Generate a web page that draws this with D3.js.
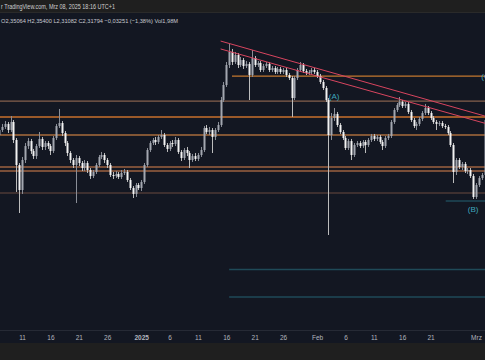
<!DOCTYPE html>
<html><head><meta charset="utf-8">
<script src="https://cdn.jsdelivr.net/npm/d3@7"></script>
<style>html,body{margin:0;padding:0;background:#1f1f1f;overflow:hidden}svg{display:block}</style>
</head><body><svg id="c" width="485" height="360"></svg>
<script>
// ---- data (12h candles, XRP-like) ----
const startTime = "2024-12-07T00:00:00Z";
const candleHours = 12;
const firstOpen = 2.639;
const closes = [
2.682,2.708,2.734,2.682,2.751,2.596,2.381,2.166,
2.424,2.544,2.587,2.501,2.458,2.544,2.605,2.536,2.570,2.544,
2.501,2.613,2.716,2.742,2.656,2.570,2.484,2.424,2.381,2.441,
2.398,2.355,2.398,2.338,2.286,2.321,2.381,2.450,2.467,2.424,
2.381,2.295,2.286,2.304,2.278,2.312,2.321,2.252,2.183,2.132,
2.209,2.183,2.235,2.381,2.510,2.570,2.596,2.579,2.622,2.639,
2.553,2.519,2.570,2.562,2.596,2.493,2.441,2.510,2.484,2.424,
2.458,2.433,2.467,2.510,2.699,2.665,2.682,2.622,2.682,2.725,
2.940,3.069,3.241,3.353,3.267,3.327,3.241,3.284,3.232,3.250,
3.155,3.301,3.241,3.258,3.198,3.232,3.250,3.198,3.215,3.181,
3.207,3.181,3.198,3.155,3.129,2.957,3.129,3.198,3.241,3.189,
3.172,3.181,3.198,3.181,3.146,3.095,3.043,2.940,2.639,2.785,
2.820,2.725,2.665,2.613,2.527,2.587,2.467,2.553,2.570,2.544,
2.579,2.553,2.596,2.630,2.605,2.622,2.579,2.544,2.613,2.630,
2.751,2.854,2.897,2.923,2.888,2.906,2.837,2.768,2.716,2.734,
2.777,2.828,2.871,2.828,2.785,2.751,2.734,2.742,2.716,2.708,
2.656,2.553,2.321,2.424,2.364,2.390,2.329,2.338,2.286,2.106,
2.209,2.269,2.295,2.768];
const highs = [
2.708,2.734,2.759,2.751,2.802,2.768,2.613,2.398,
2.450,2.570,2.613,2.605,2.519,2.562,2.665,2.622,2.587,2.587,
2.562,2.630,2.734,2.863,2.759,2.673,2.587,2.501,2.441,2.467,
2.458,2.415,2.424,2.415,2.355,2.338,2.398,2.467,2.493,2.484,
2.441,2.398,2.321,2.329,2.321,2.338,2.347,2.338,2.269,2.200,
2.226,2.226,2.252,2.398,2.527,2.587,2.613,2.622,2.639,2.682,
2.656,2.570,2.587,2.596,2.622,2.613,2.510,2.527,2.536,2.501,
2.476,2.484,2.484,2.536,2.716,2.725,2.708,2.699,2.699,2.751,
2.966,3.095,3.267,3.422,3.379,3.353,3.344,3.310,3.301,3.275,
3.267,3.370,3.318,3.275,3.275,3.250,3.267,3.267,3.232,3.232,
3.224,3.224,3.215,3.215,3.172,3.146,3.146,3.215,3.267,3.258,
3.207,3.198,3.215,3.215,3.198,3.164,3.112,3.060,2.957,2.828,
2.871,2.837,2.742,2.682,2.630,2.605,2.605,2.570,2.587,2.587,
2.596,2.596,2.613,2.648,2.648,2.639,2.639,2.596,2.630,2.648,
2.768,2.871,2.914,2.966,2.940,2.923,2.923,2.854,2.785,2.751,
2.794,2.845,2.906,2.888,2.845,2.802,2.768,2.759,2.759,2.734,
2.725,2.673,2.570,2.441,2.441,2.407,2.407,2.355,2.355,2.304,
2.226,2.286,2.312,2.794];
const lows = [
2.613,2.665,2.691,2.656,2.665,2.570,2.149,1.968,
2.132,2.398,2.519,2.476,2.433,2.433,2.527,2.510,2.510,2.519,
2.467,2.484,2.596,2.699,2.630,2.544,2.458,2.398,2.355,2.054,
2.372,2.329,2.329,2.312,2.261,2.269,2.304,2.364,2.433,2.398,
2.355,2.278,2.261,2.269,2.261,2.261,2.295,2.235,2.166,2.097,
2.106,2.166,2.157,2.218,2.364,2.493,2.553,2.553,2.562,2.605,
2.536,2.493,2.501,2.536,2.544,2.476,2.415,2.424,2.458,2.355,
2.407,2.415,2.415,2.450,2.493,2.648,2.639,2.484,2.596,2.665,
2.708,2.923,3.052,3.215,3.241,3.250,3.215,3.224,3.207,3.215,
2.940,3.138,3.224,3.224,3.181,3.181,3.215,3.181,3.181,3.164,
3.164,3.164,3.164,3.138,3.112,2.794,2.940,3.112,3.181,3.172,
3.155,3.155,3.164,3.164,3.129,3.078,3.026,2.923,1.779,2.596,
2.759,2.708,2.648,2.596,2.510,2.510,2.424,2.450,2.536,2.527,
2.527,2.484,2.536,2.579,2.587,2.587,2.562,2.510,2.527,2.596,
2.613,2.734,2.837,2.880,2.871,2.871,2.820,2.751,2.699,2.682,
2.716,2.759,2.811,2.811,2.768,2.734,2.682,2.716,2.699,2.691,
2.639,2.536,2.226,2.295,2.347,2.338,2.312,2.304,2.269,2.089,
2.089,2.192,2.252,2.278];

const tickDates = ["2024-12-11","2024-12-16","2024-12-21","2024-12-26","2025-01-01","2025-01-06","2025-01-11","2025-01-16","2025-01-21","2025-01-26","2025-02-01","2025-02-06","2025-02-11","2025-02-16","2025-02-21","2025-03-01"];
const tickLabels = ["11","16","21","26","2025","6","11","16","21","26","Feb","6","11","16","21","Mrz"];

// horizontal support/resistance levels
const orangeLevelPrices = [3.146, 2.931, 2.794, 2.639, 2.364, 2.329, 2.140];
const orangeLevelStarts = ["2025-01-17", null, null, null, null, null, null];
const tealLevelPrices = [2.071, 1.482, 1.246];
const tealLevelStarts = ["2025-02-23T16:00:00Z", "2025-01-16T12:00:00Z", "2025-01-16T12:00:00Z"];

// descending trend lines [date, price]
const trendUpper = [["2025-01-15T00:00:00Z", 3.447], ["2025-03-03T00:00:00Z", 2.796]];
const trendLower = [["2025-01-15T00:00:00Z", 3.379], ["2025-03-03T00:00:00Z", 2.734]];

// wave labels
const waveTexts = ["(A)", "(B)", "(C)"];
const waveDates = ["2025-02-04T00:00:00Z", "2025-02-28T12:00:00Z", "2025-03-02T22:00:00Z"];
const wavePrices = [2.949, 1.977, 3.121];

const headerText = "r TradingView.com, Mrz 08, 2025 18:16 UTC+1";
const ohlcText = "O2,35064 H2,35400 L2,31082 C2,31794 \u22120,03251 (\u22121,38%) Vol1,98M";

// ---- drawing ----
const W = 485, H = 360;
const svg = d3.select("#c");
const font = "'Liberation Sans', Arial, sans-serif";

const x = d3.scaleUtc().domain([new Date("2024-12-11T00:00:00Z"), new Date("2025-03-01T00:00:00Z")]).range([22, 476]);
const y = d3.scaleLinear().domain([1.048, 3.80]).range([320, 0]);

const t0 = new Date(startTime);
const candles = closes.map((c, i) => ({
  date: d3.utcHour.offset(t0, i * candleHours),
  open: i === 0 ? firstOpen : closes[i - 1],
  close: c, high: highs[i], low: lows[i]
}));

// backgrounds
svg.append("rect").attr("x", 0).attr("y", 0).attr("width", W).attr("height", H).attr("fill", "#1f1f1f");
svg.append("rect").attr("x", 0).attr("y", 13).attr("width", W).attr("height", 330).attr("fill", "#131722");

const defs = svg.append("defs");
defs.append("clipPath").attr("id", "plot").append("rect").attr("x", 0).attr("y", 13).attr("width", W).attr("height", 317);

const plot = svg.append("g").attr("clip-path", "url(#plot)");

// orange levels
const orangeColors = ["#c4782f", "#85604c", "#c8702c", "#a86c3c", "#9c6240", "#9c6240", "#6a4a3e"];
const orangeWidths = [1.2, 1.2, 1.6, 1.6, 1.6, 1.6, 1.2];
orangeLevelPrices.forEach((p, i) => {
  const x0 = orangeLevelStarts[i] ? x(new Date(orangeLevelStarts[i])) : 0;
  plot.append("line").attr("x1", x0).attr("x2", W).attr("y1", y(p)).attr("y2", y(p))
    .attr("stroke", orangeColors[i]).attr("stroke-width", orangeWidths[i]);
});
// teal levels
tealLevelPrices.forEach((p, i) => {
  plot.append("line").attr("x1", x(new Date(tealLevelStarts[i]))).attr("x2", W).attr("y1", y(p)).attr("y2", y(p))
    .attr("stroke", "#1f4a58").attr("stroke-width", 1.6);
});

// candles
const bodyW = 2;
const g = plot.append("g");
candles.forEach(d => {
  const cx = Math.round(x(d.date));
  const up = d.close >= d.open;
  const col = up ? "#a3a7b0" : "#f2f2f2";
  g.append("line").attr("x1", cx + 0.5).attr("x2", cx + 0.5).attr("y1", y(d.high)).attr("y2", y(d.low))
    .attr("stroke", up ? "#8a8e97" : "#bcbcbc").attr("stroke-width", 1);
  const top = y(Math.max(d.open, d.close)), bot = y(Math.min(d.open, d.close));
  g.append("rect").attr("x", cx - 0.5).attr("width", bodyW).attr("y", top).attr("height", Math.max(1, bot - top))
    .attr("fill", col);
});

// trend lines
const line = d3.line().x(d => x(new Date(d[0]))).y(d => y(d[1]));
[trendUpper, trendLower].forEach(t => {
  plot.append("path").attr("d", line(t)).attr("fill", "none").attr("stroke", "#d8455f").attr("stroke-width", 1);
});

// wave labels
waveTexts.forEach((t, i) => {
  plot.append("text").attr("x", x(new Date(waveDates[i]))).attr("y", y(wavePrices[i]))
    .attr("text-anchor", "middle").attr("fill", "#3fa6bd").attr("font-family", font).attr("font-size", 8)
    .text(t);
});

// header
svg.append("rect").attr("x", 0).attr("y", 12).attr("width", W).attr("height", 1).attr("fill", "#2a2a2a");
svg.append("text").attr("x", 1).attr("y", 9).attr("fill", "#cfcfcf")
  .attr("font-family", font).attr("font-size", 6.4)
  .attr("textLength", 114).attr("lengthAdjust", "spacingAndGlyphs").text(headerText);
svg.append("text").attr("x", 1).attr("y", 22.5).attr("fill", "#c8cad0")
  .attr("font-family", font).attr("font-size", 6.2)
  .attr("textLength", 177).attr("lengthAdjust", "spacingAndGlyphs").text(ohlcText);

// x axis
svg.append("rect").attr("x", 0).attr("y", 330).attr("width", W).attr("height", 1).attr("fill", "#262a35");
const axis = d3.axisBottom(x)
  .tickValues(tickDates.map(s => new Date(s + "T00:00:00Z")))
  .tickFormat((d, i) => tickLabels[i])
  .tickSize(0).tickPadding(5);
const ag = svg.append("g").attr("transform", "translate(0,330)").call(axis);
ag.select(".domain").remove();
ag.selectAll("text").attr("fill", "#b2b5be").attr("font-family", font).attr("font-size", 6.5)
  .attr("font-weight", (d, i) => tickLabels[i] === "2025" ? "bold" : "normal");
</script>
</body></html>
